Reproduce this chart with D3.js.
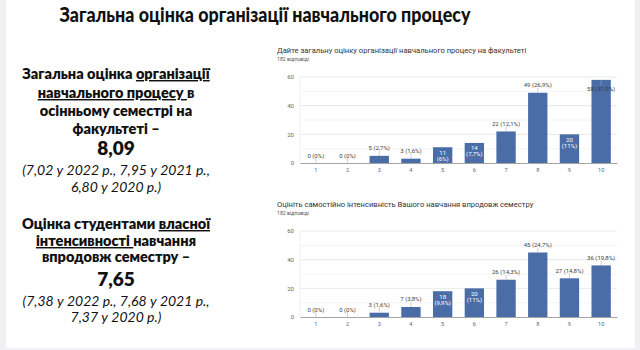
<!DOCTYPE html>
<html>
<head>
<meta charset="utf-8">
<script src="https://cdn.jsdelivr.net/npm/d3@7"></script>
<style>
  html, body { margin: 0; padding: 0; background: #f1f1f5; }
  svg { display: block; }
</style>
</head>
<body>
<svg id="slide" width="640" height="350"></svg>
<script>
// Survey results: number of answers per grade (1–10), 182 respondents each
const grades = ["1", "2", "3", "4", "5", "6", "7", "8", "9", "10"];
const organisationCounts = [0, 0, 5, 3, 11, 14, 22, 49, 20, 58];
const intensityCounts = [0, 0, 3, 7, 18, 20, 26, 45, 27, 36];
const respondents = 182;
const yTicks = [0, 20, 40, 60];

const chartTitles = [
  "Дайте загальну оцінку організації навчального процесу на факультеті",
  "Оцініть самостійно інтенсивність Вашого навчання впродовж семестру"
];
const responsesLabel = "182 відповіді";

const svg = d3.select("#slide");

// slide sheet
svg.append("rect").attr("x", 6).attr("y", 0).attr("width", 629).attr("height", 348).attr("fill", "#ffffff");

// heading
svg.append("text")
  .attr("x", 265).attr("y", 22)
  .attr("text-anchor", "middle")
  .attr("font-family", "Lato, 'Open Sans', sans-serif")
  .attr("font-weight", 900)
  .attr("font-size", 20.5)
  .attr("textLength", 411)
  .attr("lengthAdjust", "spacingAndGlyphs")
  .attr("fill", "#111")
  .text("Загальна оцінка організації навчального процесу");

// left-hand summary blocks: each line is a list of [text, underlined]
const leftFont = "Lato, 'Open Sans', sans-serif";
function textLine(y, parts, opts) {
  const t = svg.append("text")
    .attr("x", 116).attr("y", y)
    .attr("text-anchor", "middle")
    .attr("font-family", leftFont)
    .attr("font-size", opts.size)
    .attr("font-weight", opts.weight)
    .attr("font-style", opts.italic ? "italic" : "normal")
    .attr("fill", "#111")
    .attr("xml:space", "preserve");
  parts.forEach(([s, u]) => {
    t.append("tspan").attr("text-decoration", u ? "underline" : "none").text(s);
  });
}
const bold = { size: 14.5, weight: 800 };
const big = { size: 19, weight: 800 };
const ital = { size: 14, weight: 400, italic: true };

textLine(79, [["Загальна оцінка ", false], ["організації", true]], bold);
textLine(98, [["навчального процесу ", true], ["в", false]], bold);
textLine(116, [["осінньому семестрі на", false]], bold);
textLine(134, [["факультеті –", false]], bold);
textLine(155, [["8,09", false]], big);
textLine(175, [["(7,02 у 2022 р., 7,95 у 2021 р.,", false]], ital);
textLine(192, [["6,80 у 2020 р.)", false]], ital);

textLine(229, [["Оцінка студентами ", false], ["власної", true]], bold);
textLine(246, [["інтенсивності ", true], ["навчання", false]], bold);
textLine(262, [["впродовж семестру –", false]], bold);
textLine(286, [["7,65", false]], big);
textLine(306, [["(7,38 у 2022 р., 7,68 у 2021 р.,", false]], ital);
textLine(322, [["7,37 у 2020 р.)", false]], ital);

// percentage with a decimal comma, one decimal place, no trailing ",0"
function pct(v) {
  const p = Math.round(v / respondents * 1000) / 10;
  return String(p).replace(".", ",") + "%";
}

const barColor = "#4a6da8";
const chartFont = "Roboto, 'Noto Sans', sans-serif";

function drawChart(title, counts, top) {
  const g = svg.append("g");
  const plotTop = top + 27;
  const plotBottom = plotTop + 86;

  g.append("text").attr("x", 277).attr("y", top + 3)
    .attr("font-family", chartFont).attr("font-size", 7.6).attr("fill", "#333")
    .text(title);
  g.append("text").attr("x", 277).attr("y", top + 11)
    .attr("font-family", chartFont).attr("font-size", 5.2).attr("fill", "#555")
    .text(responsesLabel);

  const x = d3.scaleBand().domain(grades).range([300, 617]).paddingInner(0.39).paddingOuter(0.195);
  const y = d3.scaleLinear().domain([0, 60]).range([plotBottom, plotTop]);

  // gridlines: light minor lines every 10, stronger ones at ticks
  g.append("g").selectAll("line").data(d3.range(10, 61, 10))
    .join("line")
    .attr("x1", 300).attr("x2", 617)
    .attr("y1", d => y(d)).attr("y2", d => y(d))
    .attr("stroke", d => yTicks.includes(d) ? "#e2e2e2" : "#f1f1f1")
    .attr("stroke-width", 0.8);
  g.append("line").attr("x1", 300).attr("x2", 300).attr("y1", plotTop).attr("y2", plotBottom)
    .attr("stroke", "#ececec").attr("stroke-width", 0.8);

  // y axis labels
  const yAxis = d3.axisLeft(y).tickValues(yTicks).tickSize(0).tickPadding(6);
  const ya = g.append("g").attr("transform", "translate(300,0)").call(yAxis);
  ya.select(".domain").remove();
  ya.selectAll("text").attr("font-family", chartFont).attr("font-size", 6).attr("fill", "#666");

  // bars
  g.append("g").selectAll("rect").data(counts)
    .join("rect")
    .attr("x", (d, i) => x(grades[i]))
    .attr("y", d => y(d))
    .attr("width", x.bandwidth())
    .attr("height", d => plotBottom - y(d))
    .attr("fill", barColor);

  // baseline + x axis labels
  const xAxis = d3.axisBottom(x).tickSize(0).tickPadding(5);
  const xa = g.append("g").attr("transform", `translate(0,${plotBottom})`).call(xAxis);
  xa.select(".domain").attr("stroke", "#9a9a9a").attr("stroke-width", 0.9);
  xa.selectAll("text").attr("font-family", chartFont).attr("font-size", 5.6).attr("fill", "#666");

  // value annotations
  const ann = g.append("g").attr("font-family", chartFont).attr("font-size", 6).attr("text-anchor", "middle");
  counts.forEach((v, i) => {
    const cx = x(grades[i]) + x.bandwidth() / 2;
    const topY = y(v);
    if (v >= 55) {
      // no room above: label sits over the top of the bar
      ann.append("line").attr("x1", cx).attr("x2", cx).attr("y1", topY).attr("y2", topY + 6)
        .attr("stroke", "#8aa0c4").attr("stroke-width", 0.6);
      ann.append("text").attr("x", cx).attr("y", topY + 11).attr("fill", "#3a3a3a")
        .text(`${v} (${pct(v)})`);
    } else if (v >= 10 && v <= 21) {
      // two-line label inside the bar
      ann.append("text").attr("x", cx).attr("y", topY + 7.5).attr("fill", "#ffffff").text(v);
      ann.append("text").attr("x", cx).attr("y", topY + 13.5).attr("fill", "#ffffff").text(`(${pct(v)})`);
    } else {
      ann.append("line").attr("x1", cx).attr("x2", cx).attr("y1", topY).attr("y2", topY - 5)
        .attr("stroke", "#b0b0b0").attr("stroke-width", 0.6);
      ann.append("text").attr("x", cx).attr("y", topY - 5.5).attr("fill", "#444")
        .text(`${v} (${pct(v)})`);
    }
  });
}

drawChart(chartTitles[0], organisationCounts, 50);
drawChart(chartTitles[1], intensityCounts, 204);
</script>
</body>
</html>
